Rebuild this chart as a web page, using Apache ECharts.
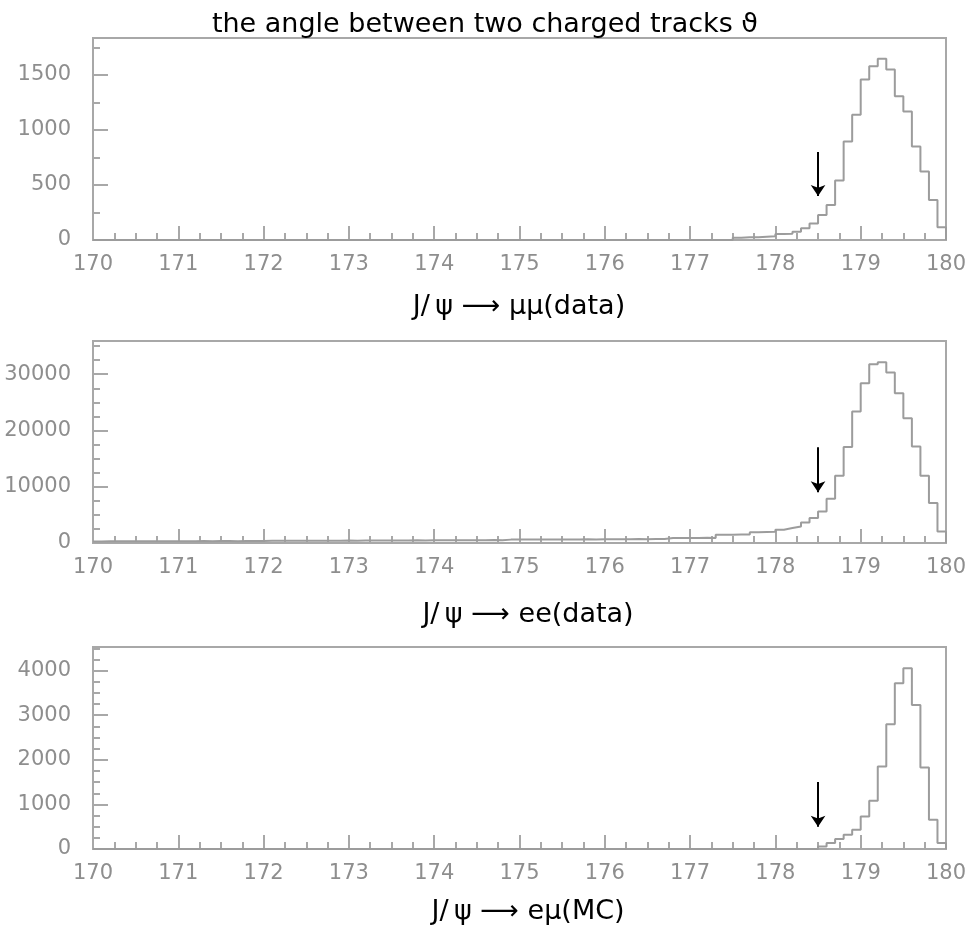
<!DOCTYPE html>
<html>
<head>
<meta charset="utf-8">
<script src="https://cdn.jsdelivr.net/npm/echarts@6/dist/echarts.min.js"></script>
<style>
  html, body { margin: 0; padding: 0; background: #fff; }
  #chart { width: 976px; height: 927px; }
</style>
</head>
<body>
<div id="chart"></div>
<script>
// Opening angle between the two charged tracks, 0.1 degree bins
const binWidth = 0.1;
const xTicks = [170, 171, 172, 173, 174, 175, 176, 177, 178, 179, 180];
const cutAngle = 178.5;

// J/psi -> mu mu (data): bins starting at 177.5
const muFirstBin = 177.5;
const muCounts = [
  20, 25, 25, 30, 35,
  55, 57, 76, 107, 149,
  228, 319, 540, 895, 1138,
  1457, 1578, 1646, 1548, 1305,
  1168, 850, 622, 364, 116
];

// J/psi -> e e (data): bins starting at 170.0
const eeFirstBin = 170.0;
const eeCounts = [
  280, 300, 290, 310, 300, 320, 300, 310, 330, 320,
  330, 320, 340, 330, 350, 340, 330, 350, 360, 350,
  380, 400, 420, 400, 390, 410, 400, 420, 410, 430,
  420, 440, 430, 450, 440, 460, 450, 470, 460, 480,
  470, 490, 480, 500, 510, 500, 520, 510, 600, 610,
  600, 620, 610, 630, 620, 640, 630, 650, 640, 660,
  650, 670, 680, 690, 680, 700, 720, 880, 890, 900,
  890, 920, 910, 1450, 1480, 1500, 1520, 1900, 1950, 2000,
  2360, 2660, 2950, 3660, 4440, 5610, 7860, 11950, 17040, 23360,
  28400, 31770, 32130, 30280, 26620, 22190, 17150, 11950, 7100, 2060
];

// J/psi -> e mu (MC): bins starting at 178.5
const emuFirstBin = 178.5;
const emuCounts = [
  58, 134, 224, 320, 432,
  730, 1082, 1850, 2800, 3718,
  4054, 3232, 1828, 656, 134
];

// Per-panel y ranges and tick steps
const yMax = [1835, 35900, 4530];
const yMajor = [500, 10000, 1000];
const yMinor = [250, 2500, 250];
// Arrow extents (in counts) marking the cut
const arrowTop = [800, 17000, 1500];
const arrowTip = [400, 9000, 500];

const panelTitles = ['J/\u2009ψ ⟶ μμ(data)', 'J/\u2009ψ ⟶ ee(data)', 'J/\u2009ψ ⟶ eμ(MC)'];
const mainTitle = 'the angle between two charged tracks ϑ';

const FONT = 'DejaVu Sans';
const AXIS = '#a8a8a8';
const LABEL = '#8e8e8e';
const HIST = '#9c9c9c';

function histPoints(first, counts) {
  const pts = [];
  if (first > xTicks[0]) pts.push([xTicks[0], 0]);
  counts.forEach((c, i) => pts.push([Math.round((first + i * binWidth) * 10) / 10, c]));
  pts.push([xTicks[xTicks.length - 1], 0]);
  return pts;
}

const panels = [
  { first: muFirstBin, counts: muCounts },
  { first: eeFirstBin, counts: eeCounts },
  { first: emuFirstBin, counts: emuCounts }
];
const gridTops = [38, 341, 647];
const gridHeight = 202;
const titleY = [307, 615, 912];
const titleX = [519, 528, 528];

const plain = v => String(v);

const grids = [], xAxes = [], yAxes = [], series = [], graphics = [];

panels.forEach((p, k) => {
  grids.push({
    left: 93, right: 30, top: gridTops[k], height: gridHeight,
    containLabel: false, outerBoundsMode: 'none',
    show: true, borderColor: AXIS, borderWidth: 2, backgroundColor: 'transparent'
  });
  xAxes.push({
    type: 'value', gridIndex: k, min: xTicks[0], max: xTicks[xTicks.length - 1], interval: 1,
    axisLine: { show: true, onZero: false, lineStyle: { color: AXIS, width: 2 } },
    axisTick: { show: true, inside: true, length: 14, lineStyle: { color: AXIS, width: 2 } },
    minorTick: { show: true, splitNumber: 4, length: 7, lineStyle: { color: AXIS, width: 2 } },
    splitLine: { show: false },
    axisLabel: { color: LABEL, fontSize: 21, fontFamily: FONT, margin: 14, formatter: plain }
  });
  // labelled axis with long ticks
  yAxes.push({
    type: 'value', gridIndex: k, min: 0, max: yMax[k], interval: yMajor[k], position: 'left',
    axisLine: { show: true, lineStyle: { color: AXIS, width: 2 } },
    axisTick: { show: true, inside: true, length: 15, lineStyle: { color: AXIS, width: 2 } },
    splitLine: { show: false },
    axisLabel: { color: LABEL, fontSize: 21, fontFamily: FONT, margin: 22, showMaxLabel: false, formatter: plain }
  });
  // unlabelled axis carrying the short ticks
  yAxes.push({
    type: 'value', gridIndex: k, min: 0, max: yMax[k], interval: yMinor[k], position: 'left',
    axisLine: { show: false },
    axisTick: { show: true, inside: true, length: 7, lineStyle: { color: AXIS, width: 2 } },
    splitLine: { show: false },
    axisLabel: { show: false }
  });
  series.push({
    type: 'line', xAxisIndex: k, yAxisIndex: 2 * k, step: 'end',
    data: histPoints(p.first, p.counts),
    showSymbol: false, symbol: 'none',
    lineStyle: { color: HIST, width: 2 },
    silent: true,
    markLine: {
      silent: true, symbol: ['none', 'arrow'], symbolSize: 11,
      lineStyle: { color: '#000', width: 2, type: 'solid' },
      itemStyle: { color: '#000' },
      label: { show: false },
      data: [[{ coord: [cutAngle, arrowTop[k]] }, { coord: [cutAngle, arrowTip[k]] }]]
    }
  });
  graphics.push({
    type: 'text', x: titleX[k], y: titleY[k],
    style: { text: panelTitles[k], fill: '#000', font: '27px "' + FONT + '"', textAlign: 'center', textVerticalAlign: 'middle' }
  });
});

graphics.push({
  type: 'text', x: 485, y: 25,
  style: { text: mainTitle, fill: '#000', font: '27px "' + FONT + '"', textAlign: 'center', textVerticalAlign: 'middle' }
});

const chart = echarts.init(document.getElementById('chart'), null, { renderer: 'canvas' });
chart.setOption({
  animation: false,
  backgroundColor: '#fff',
  grid: grids,
  xAxis: xAxes,
  yAxis: yAxes,
  series: series,
  graphic: graphics
});
</script>
</body>
</html>
